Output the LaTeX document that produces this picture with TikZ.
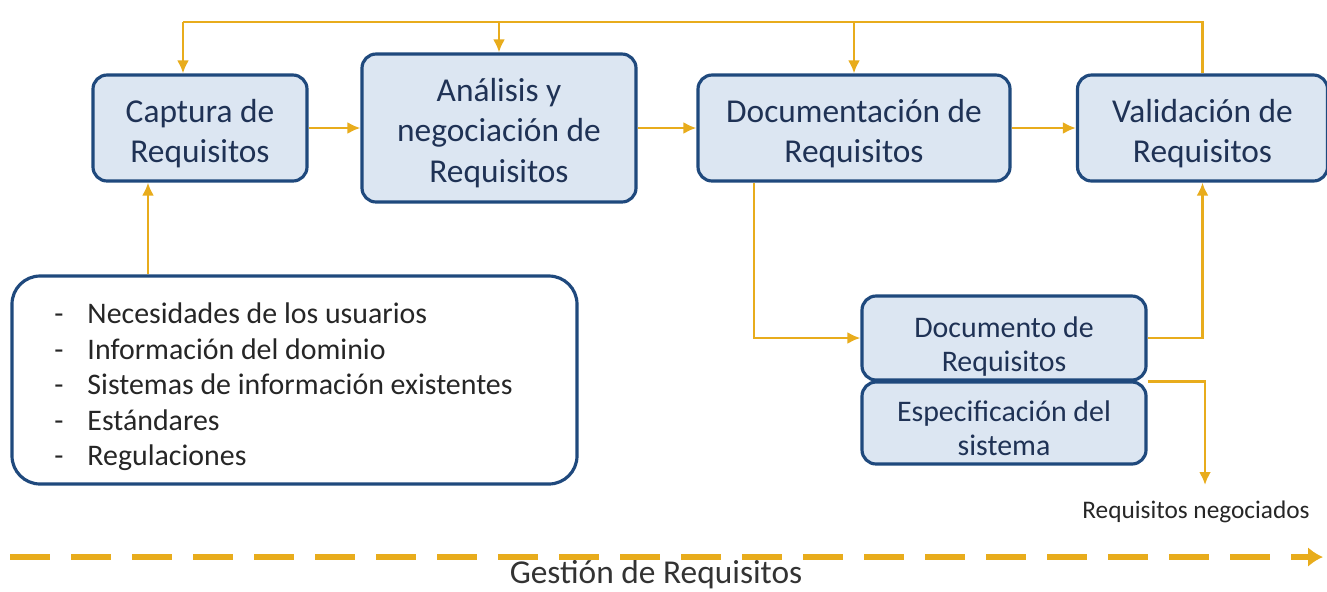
\documentclass[tikz,border=0pt]{standalone}
\usepackage{fontspec}
\setmainfont{Carlito}
\usepackage{tikz}
\usetikzlibrary{arrows.meta}

\definecolor{boxfill}{RGB}{220,230,242}
\definecolor{boxline}{RGB}{31,73,125}
\definecolor{boxtext}{RGB}{31,50,85}
\definecolor{flowgold}{RGB}{232,172,28}

% puntal superior para bajar un poco el texto
\newcommand{\topstrut}[1]{\rule{0pt}{#1}}

\tikzset{
  phase/.style={rectangle, rounded corners=8pt, draw=boxline, line width=1.8pt, fill=boxfill,
    text=boxtext, align=center, inner sep=2pt, font=\fontsize{19}{23}\selectfont},
  docbox/.style={phase, inner sep=0pt, font=\fontsize{17}{19.4}\selectfont},
  inputbox/.style={rectangle, rounded corners=16pt, draw=boxline, line width=1.8pt, fill=white,
    align=left, text=black!85, font=\fontsize{17}{20.2}\selectfont},
  flow/.style={draw=flowgold, line width=1.5pt, -{Latex[length=2.6mm,width=2.4mm]}},
  plainflow/.style={draw=flowgold, line width=1.5pt}
}

\begin{document}
\begin{tikzpicture}
\useasboundingbox (0,0) rectangle (26.54,-11.82);

% fases del proceso
\node[phase, minimum width=4.28cm, minimum height=2.12cm] (cap) at (4.0,-2.56) {\topstrut{0.68cm}Captura de\\Requisitos};
\node[phase, minimum width=5.48cm, minimum height=2.96cm] (ana) at (9.98,-2.56) {\topstrut{0.66cm}Análisis y\\negociación de\\Requisitos};
\node[phase, minimum width=6.24cm, minimum height=2.12cm] (doc) at (17.08,-2.56) {\topstrut{0.68cm}Documentación de\\Requisitos};
\node[phase, minimum width=5.0cm, minimum height=2.12cm] (val) at (24.05,-2.56) {\topstrut{0.68cm}Validación de\\Requisitos};

% documentos
\node[docbox, minimum width=5.68cm, minimum height=1.68cm] (docreq) at (20.08,-6.76) {\topstrut{0.76cm}Documento de\\Requisitos};
\node[docbox, minimum width=5.68cm, minimum height=1.64cm] (espec) at (20.08,-8.46) {\topstrut{0.64cm}Especificación del\\sistema};

% entradas
\node[inputbox, minimum width=11.3cm, minimum height=4.16cm] (inp) at (5.89,-7.6)
  {\topstrut{0.7cm}-\hspace{0.8em}Necesidades de los usuarios\\
   -\hspace{0.8em}Información del dominio\\
   -\hspace{0.8em}Sistemas de información existentes\rule{0.44cm}{0pt}\\
   -\hspace{0.8em}Estándares\\
   -\hspace{0.8em}Regulaciones};

\node[text=black!85, font=\fontsize{14.4}{16}\selectfont] (neg) at (23.92,-10.24) {Requisitos negociados};
\node[text=black!80, font=\fontsize{19}{21}\selectfont, anchor=base] (gest) at (13.12,-11.66) {Gestión de Requisitos};

\coordinate (loopL) at (3.66,-0.44);
\coordinate (loopR) at (val.north |- loopL);
\coordinate (upIn) at (2.96,0);
\coordinate (downDoc) at (15.08,0);
\coordinate (outEnd) at (24.1,-9.7);
\coordinate (gStart) at (0.2,-11.14);
\coordinate (gEnd) at (26.46,-11.14);

% flujo principal
\draw[flow] (cap) -- (ana);
\draw[flow] (ana) -- (doc);
\draw[flow] (doc) -- (val);

% realimentacion superior
\draw[plainflow] (val.north) -- (loopR) -- (loopL);
\draw[flow] (loopL) -- (loopL |- cap.north);
\draw[flow] (ana.north |- loopL) -- (ana.north);
\draw[flow] (doc.north |- loopL) -- (doc.north);

\draw[flow] (upIn |- inp.north) -- (upIn |- cap.south);
\draw[flow] (downDoc |- doc.south) |- (docreq.west);
\draw[flow] (docreq.east) -| (val.south);
\draw[flow] (docreq.south east) -| (outEnd);

% gestion
\draw[draw=flowgold, line width=3.4pt, dash pattern=on 0.8cm off 0.42cm, -{Latex[length=3mm,width=4mm]}] (gStart) -- (gEnd);
\end{tikzpicture}
\end{document}
